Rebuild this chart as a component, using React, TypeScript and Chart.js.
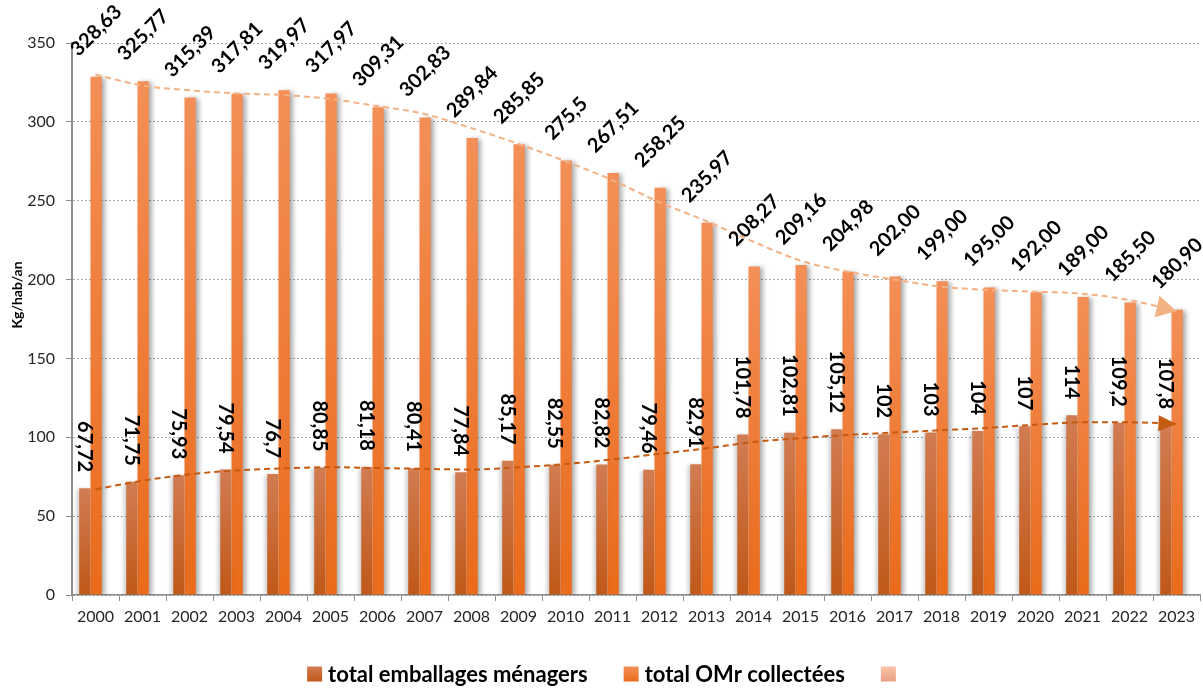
import React, { useEffect, useRef } from 'react';
import { Chart, registerables } from 'chart.js';

Chart.register(...registerables);

const years = ['2000', '2001', '2002', '2003', '2004', '2005', '2006', '2007', '2008', '2009', '2010', '2011', '2012', '2013', '2014', '2015', '2016', '2017', '2018', '2019', '2020', '2021', '2022', '2023'];

const emballages = [67.72, 71.75, 75.93, 79.54, 76.7, 80.85, 81.18, 80.41, 77.84, 85.17, 82.55, 82.82, 79.46, 82.91, 101.78, 102.81, 105.12, 102, 103, 104, 107, 114, 109.2, 107.8];
const emballagesLabels = ['67,72', '71,75', '75,93', '79,54', '76,7', '80,85', '81,18', '80,41', '77,84', '85,17', '82,55', '82,82', '79,46', '82,91', '101,78', '102,81', '105,12', '102', '103', '104', '107', '114', '109,2', '107,8'];

const omr = [328.63, 325.77, 315.39, 317.81, 319.97, 317.97, 309.31, 302.83, 289.84, 285.85, 275.5, 267.51, 258.25, 235.97, 208.27, 209.16, 204.98, 202, 199, 195, 192, 189, 185.5, 180.9];
const omrLabels = ['328,63', '325,77', '315,39', '317,81', '319,97', '317,97', '309,31', '302,83', '289,84', '285,85', '275,5', '267,51', '258,25', '235,97', '208,27', '209,16', '204,98', '202,00', '199,00', '195,00', '192,00', '189,00', '185,50', '180,90'];

// hand-drawn trend curves
const omrTrend = [330, 323, 320, 318, 317, 314.5, 310, 305, 296, 286, 275, 263, 249, 237, 224, 212, 205, 200, 195.5, 193.4, 192.3, 191, 187, 180];
const emballagesTrend = [67, 72.5, 76.5, 79, 80.3, 81, 80.5, 80, 79.5, 81, 83, 86, 89.5, 93, 97, 99.5, 101.5, 103, 104.5, 106, 108, 109.5, 109.5, 108.5];

const yMin = 0;
const yMax = 350;
const yStep = 50;

const seriesNames = ['total emballages ménagers', 'total OMr collectées', ''];
const yTitle = 'Kg/hab/an';

const DARK_TOP = '#D27C52';
const DARK_BOTTOM = '#C05818';
const ORANGE_TOP = '#F38F57';
const ORANGE_BOTTOM = '#EA6B1B';
const PEACH = '#F4B183';
const PEACH_DARK = '#E9A084';
const TREND_DARK = '#C55A11';
const FONT = 'Lato, "Open Sans", sans-serif';

const barGradient = (top: string, bottom: string) => (ctx: any) => {
  const chart = ctx.chart;
  if (!chart.chartArea || ctx.type !== 'data') return bottom;
  const y = chart.scales.y;
  const yTop = y.getPixelForValue(ctx.raw);
  const y0 = y.getPixelForValue(0);
  const g = chart.ctx.createLinearGradient(0, yTop, 0, Math.max(y0, yTop + 1));
  g.addColorStop(0, top);
  g.addColorStop(1, bottom);
  return g;
};

const decorPlugin = {
  id: 'decor',
  afterDatasetsUpdate(chart: any) {
    chart.getSortedVisibleDatasetMetas().forEach((meta: any) => {
      if (meta.type === 'bar') {
        meta.data.forEach((el: any) => {
          el.x -= 5;
        });
      }
    });
  },
  beforeDatasetDraw(chart: any, args: any) {
    if (args.meta.type === 'bar') {
      const c = chart.ctx;
      c.save();
      if (args.index === 0) {
        c.shadowColor = 'rgba(0,0,0,0.22)';
        c.shadowBlur = 4;
        c.shadowOffsetX = -2;
        c.shadowOffsetY = 1;
      } else {
        c.shadowColor = 'rgba(0,0,0,0.35)';
        c.shadowBlur = 5;
        c.shadowOffsetX = 3;
        c.shadowOffsetY = 1;
      }
    }
  },
  afterDatasetDraw(chart: any, args: any) {
    if (args.meta.type === 'bar') chart.ctx.restore();
  },
  afterDraw(chart: any) {
    const c = chart.ctx;
    // arrowheads on trend lines
    [2, 3].forEach((di) => {
      const meta = chart.getDatasetMeta(di);
      const pts = meta.data;
      const last = pts[pts.length - 1];
      const prev = pts[pts.length - 2];
      let dx = last.x - (last.cp1x ?? prev.x);
      let dy = last.y - (last.cp1y ?? prev.y);
      if (Math.hypot(dx, dy) < 0.5) {
        dx = last.x - prev.x;
        dy = last.y - prev.y;
      }
      const ang = Math.atan2(dy, dx);
      const len = di === 2 ? 20 : 18;
      const half = di === 2 ? 11 : 8;
      c.save();
      c.translate(last.x, last.y);
      c.rotate(ang);
      c.beginPath();
      c.moveTo(0, 0);
      c.lineTo(-len, -half);
      c.lineTo(-len, half);
      c.closePath();
      c.fillStyle = di === 2 ? PEACH : TREND_DARK;
      c.fill();
      c.restore();
    });

    // data labels
    c.save();
    c.fillStyle = '#000';
    c.font = `bold 20px ${FONT}`;
    const dMeta = chart.getDatasetMeta(0);
    dMeta.data.forEach((el: any, i: number) => {
      c.save();
      c.translate(el.x, el.y - 16);
      c.rotate(Math.PI / 2);
      c.textAlign = 'right';
      c.textBaseline = 'middle';
      c.fillText(emballagesLabels[i], 0, 0);
      c.restore();
    });
    const oMeta = chart.getDatasetMeta(1);
    oMeta.data.forEach((el: any, i: number) => {
      const w = c.measureText(omrLabels[i]).width;
      const cy = el.y - 19 - ((w + 14) * 0.7071) / 2;
      c.save();
      c.translate(el.x, cy);
      c.rotate(-Math.PI / 4);
      c.textAlign = 'center';
      c.textBaseline = 'middle';
      c.fillText(omrLabels[i], 0, 0);
      c.restore();
    });
    c.restore();

    // y-axis title
    c.save();
    c.font = `bold 14px ${FONT}`;
    c.fillStyle = '#000';
    c.translate(17, 295);
    c.rotate(-Math.PI / 2);
    c.textAlign = 'center';
    c.textBaseline = 'middle';
    c.fillText(yTitle, 0, 0);
    c.restore();

    // legend
    c.save();
    c.font = `bold 22px ${FONT}`;
    const box = 15;
    const gapText = 6;
    const gapItem = 36;
    const colors = [
      [DARK_TOP, DARK_BOTTOM],
      [ORANGE_TOP, ORANGE_BOTTOM],
      ['#F8C4A8', PEACH_DARK],
    ];
    const widths = seriesNames.map((s) => box + (s ? gapText + c.measureText(s).width : 0));
    const total = widths.reduce((a, b) => a + b, 0) + gapItem * (widths.length - 1);
    let x = chart.width / 2 - total / 2;
    const yc = 674;
    seriesNames.forEach((s, i) => {
      const g = c.createLinearGradient(0, yc - box / 2, 0, yc + box / 2);
      g.addColorStop(0, colors[i][0]);
      g.addColorStop(1, colors[i][1]);
      c.fillStyle = g;
      c.fillRect(x, yc - box / 2, box, box);
      if (s) {
        c.fillStyle = '#000';
        c.textAlign = 'left';
        c.textBaseline = 'middle';
        c.fillText(s, x + box + gapText, yc + 1);
      }
      x += widths[i] + gapItem;
    });
    c.restore();
  },
};

export default function App() {
  const ref = useRef<HTMLCanvasElement>(null);

  useEffect(() => {
    if (!ref.current) return;
    const chart = new Chart(ref.current, {
      type: 'bar',
      data: {
        labels: years,
        datasets: [
          {
            type: 'bar',
            label: seriesNames[0],
            data: emballages,
            backgroundColor: barGradient(DARK_TOP, DARK_BOTTOM),
            borderWidth: 0,
            categoryPercentage: 0.48,
            barPercentage: 1,
            order: 1,
          },
          {
            type: 'bar',
            label: seriesNames[1],
            data: omr,
            backgroundColor: barGradient(ORANGE_TOP, ORANGE_BOTTOM),
            borderWidth: 0,
            categoryPercentage: 0.48,
            barPercentage: 1,
            order: 1,
          },
          {
            type: 'line',
            label: seriesNames[2],
            data: omrTrend,
            borderColor: PEACH,
            borderWidth: 2,
            borderDash: [6, 4],
            pointRadius: 0,
            tension: 0.4,
            cubicInterpolationMode: 'monotone',
            fill: false,
            order: 0,
          },
          {
            type: 'line',
            label: 'trend emballages',
            data: emballagesTrend,
            borderColor: TREND_DARK,
            borderWidth: 2,
            borderDash: [6, 4],
            pointRadius: 0,
            tension: 0.4,
            cubicInterpolationMode: 'monotone',
            fill: false,
            order: 0,
          },
        ] as any,
      },
      options: {
        responsive: false,
        animation: false,
        layout: { padding: { left: 0, right: 3, top: 43, bottom: 0 } },
        plugins: {
          legend: { display: false },
          tooltip: { enabled: false },
          title: { display: false },
        },
        scales: {
          x: {
            grid: {
              display: true,
              offset: true,
              drawOnChartArea: false,
              drawTicks: true,
              tickLength: 6,
              color: '#8C8C8C',
              tickColor: '#8C8C8C',
            },
            border: { display: true, color: '#8C8C8C', width: 1.5 },
            ticks: {
              font: { family: FONT, size: 16 },
              color: '#262626',
              maxRotation: 0,
              autoSkip: false,
              padding: 6,
            },
            afterFit: (scale: any) => {
              scale.height = 93;
            },
          },
          y: {
            min: yMin,
            max: yMax,
            grid: {
              color: '#A6A6A6',
              lineWidth: 1,
              tickLength: 6,
              tickColor: '#8C8C8C',
              tickBorderDash: [],
            },
            border: { display: true, color: '#8C8C8C', width: 2, dash: [2, 2] },
            ticks: {
              stepSize: yStep,
              font: { family: FONT, size: 16 },
              color: '#262626',
              padding: 11,
            },
            afterFit: (scale: any) => {
              scale.width = 72;
            },
          },
        },
      } as any,
      plugins: [decorPlugin],
    });
    return () => chart.destroy();
  }, []);

  return (
    <div style={{ position: 'absolute', left: 0, top: 0, width: 1203, height: 688, background: '#fff' }}>
      <canvas ref={ref} width={1203} height={688} />
    </div>
  );
}
